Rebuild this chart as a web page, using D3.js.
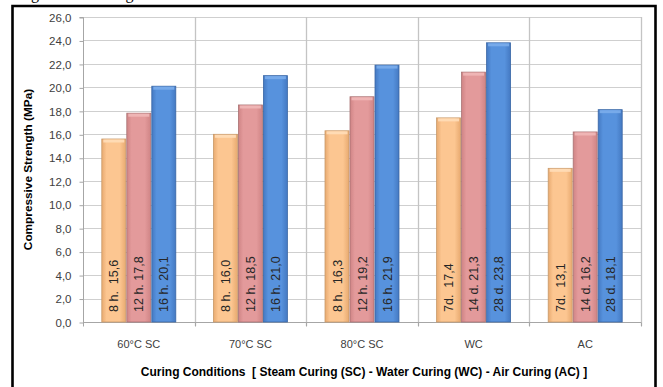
<!DOCTYPE html>
<html><head><meta charset="utf-8">
<script src="https://cdn.jsdelivr.net/npm/d3@7"></script>
<style>
html,body{margin:0;padding:0;background:#fff;}
svg{display:block;}
</style></head>
<body>
<svg id="chart" width="663" height="387"></svg>
<script>
const categories = ["60°C SC", "70°C SC", "80°C SC", "WC", "AC"];
const seriesKeys = ["early", "mid", "late"];
const earlyValues = [15.6, 16.0, 16.3, 17.4, 13.1];
const midValues = [17.8, 18.5, 19.2, 21.3, 16.2];
const lateValues = [20.1, 21.0, 21.9, 23.8, 18.1];
const earlyAges = ["8 h. ", "8 h. ", "8 h. ", "7d. ", "7d. "];
const midAges = ["12 h.", "12 h.", "12 h.", "14 d.", "14 d."];
const lateAges = ["16 h.", "16 h.", "16 h.", "28 d.", "28 d."];
const yTicks = [0, 2, 4, 6, 8, 10, 12, 14, 16, 18, 20, 22, 24, 26];
const yTitle = "Compressive Strength (MPa)";
const xTitle = "Curing Conditions  [ Steam Curing (SC) - Water Curing (WC) - Air Curing (AC) ]";

const valuesBy = {early: earlyValues, mid: midValues, late: lateValues};
const agesBy = {early: earlyAges, mid: midAges, late: lateAges};
const colors = {
  early: {fill: "#FCC691", light: "#FFDDB8", dark: "#E8AA70", stroke: "#C99A6A"},
  mid:   {fill: "#E39A9B", light: "#F0B8B8", dark: "#CF8485", stroke: "#A97273"},
  late:  {fill: "#5792DD", light: "#7BADEB", dark: "#4479C2", stroke: "#3A67A6"}
};

const svg = d3.select("#chart");
const font = "'Liberation Sans', Arial, sans-serif";

// clipped text line from the page above
svg.append("text").attr("x", -2).attr("y", -1)
  .attr("font-family", "'Liberation Serif', 'Times New Roman', serif")
  .attr("font-size", 16).attr("fill", "#000")
  .text("curing showed in Figure 3.");

const defs = svg.append("defs");
seriesKeys.forEach(k => {
  const g = defs.append("linearGradient").attr("id", "g-" + k)
    .attr("x1", "0").attr("x2", "1").attr("y1", "0").attr("y2", "0");
  g.append("stop").attr("offset", "0%").attr("stop-color", colors[k].dark);
  g.append("stop").attr("offset", "20%").attr("stop-color", colors[k].fill);
  g.append("stop").attr("offset", "75%").attr("stop-color", colors[k].fill);
  g.append("stop").attr("offset", "100%").attr("stop-color", colors[k].dark);
});

const pLeft = 83, pRight = 641, pTop = 17, pBottom = 322;
const x0 = d3.scaleBand().domain(categories).range([pLeft, pRight]).padding(0);
const groupPad = 18.8;
const x1 = d3.scaleBand().domain(seriesKeys).range([groupPad, x0.bandwidth() - groupPad]).paddingInner(0.04);
const y = d3.scaleLinear().domain([0, 26]).range([pBottom, pTop]);

// horizontal grid
svg.append("g").selectAll("line").data(yTicks).join("line")
  .attr("x1", pLeft).attr("x2", pRight)
  .attr("y1", d => Math.round(y(d)) + 0.5).attr("y2", d => Math.round(y(d)) + 0.5)
  .attr("stroke", "#CFCFCF").attr("stroke-width", 1);

// vertical category boundaries
const bounds = categories.map(c => x0(c)).concat([pRight]);
svg.append("g").selectAll("line").data(bounds.slice(1)).join("line")
  .attr("x1", d => Math.round(d) + 0.5).attr("x2", d => Math.round(d) + 0.5)
  .attr("y1", pTop).attr("y2", pBottom + 4)
  .attr("stroke", "#C4C4C4").attr("stroke-width", 1.3);

// y axis
const yAxis = d3.axisLeft(y).tickValues(yTicks).tickSize(4).tickPadding(8)
  .tickFormat(d => d3.format(".1f")(d).replace(".", ","));
const ya = svg.append("g").attr("transform", `translate(${pLeft + 0.5},0.5)`).call(yAxis);
ya.select(".domain").attr("stroke", "#A6A6A6").attr("d", `M-4,${pTop}H0V${pBottom}`);
ya.selectAll(".tick line").attr("stroke", "#A6A6A6");
ya.selectAll(".tick text").attr("font-family", font).attr("font-size", 11.5).attr("fill", "#404040");

// x axis
const xa = svg.append("g").attr("transform", `translate(0,${pBottom + 0.5})`);
xa.append("line").attr("x1", pLeft).attr("x2", pRight).attr("stroke", "#A6A6A6");
xa.selectAll("line.tk").data(bounds).join("line").attr("class", "tk")
  .attr("x1", d => Math.round(d) + 0.5).attr("x2", d => Math.round(d) + 0.5)
  .attr("y1", 0).attr("y2", 4).attr("stroke", "#A6A6A6");
xa.selectAll("text").data(categories).join("text")
  .attr("x", d => x0(d) + x0.bandwidth() / 2).attr("y", 25)
  .attr("text-anchor", "middle").attr("font-family", font).attr("font-size", 11)
  .attr("fill", "#404040").text(d => d);

// bars
const groups = svg.append("g").selectAll("g").data(categories).join("g")
  .attr("transform", d => `translate(${x0(d)},0)`);
groups.each(function(cat, i) {
  const g = d3.select(this);
  seriesKeys.forEach(k => {
    const v = valuesBy[k][i];
    const bx = x1(k), bw = x1.bandwidth();
    g.append("rect").attr("x", bx).attr("y", y(v)).attr("width", bw).attr("height", y(0) - y(v))
      .attr("fill", `url(#g-${k})`).attr("stroke", colors[k].stroke).attr("stroke-width", 0.8);
    g.append("rect").attr("x", bx + 1.5).attr("y", y(v) + 0.5).attr("width", bw - 3).attr("height", 3)
      .attr("fill", colors[k].light).attr("opacity", 0.9);
    g.append("text")
      .attr("transform", `translate(${bx + bw / 2 + 4.5},${pBottom - 10}) rotate(-90)`)
      .attr("font-family", font).attr("font-size", 12.5).attr("fill", "#262626")
      .attr("xml:space", "preserve").style("white-space", "pre")
      .text(`${agesBy[k][i]} ${d3.format(".1f")(v).replace(".", ",")}`);
  });
});

// axis titles
svg.append("text").attr("transform", `translate(32,${(pTop + pBottom) / 2}) rotate(-90)`)
  .attr("text-anchor", "middle").attr("font-family", font).attr("font-size", 11.8)
  .attr("font-weight", "bold").attr("fill", "#000").text(yTitle);
svg.append("text").attr("x", 364).attr("y", 376).attr("text-anchor", "middle")
  .attr("font-family", font).attr("font-size", 12).attr("font-weight", "bold")
  .attr("fill", "#000").attr("xml:space", "preserve").style("white-space", "pre").text(xTitle);

// outer frame
svg.append("path").attr("d", "M12.5,400V6H655.5V400")
  .attr("fill", "none").attr("stroke", "#000").attr("stroke-width", 2.6);
</script>
</body></html>
